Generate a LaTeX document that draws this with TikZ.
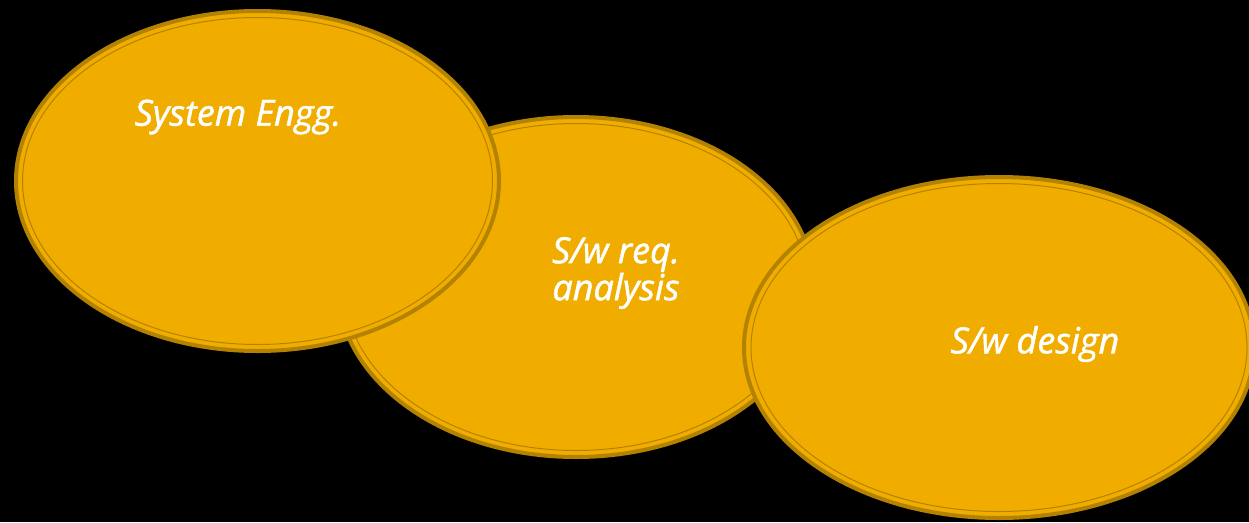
\documentclass[tikz,border=0pt]{standalone}
\usepackage{fontspec}
\setmainfont{Open Sans}[ItalicFeatures={FakeBold=1.3}]
\usetikzlibrary{shapes.geometric}
\definecolor{goldfill}{HTML}{F0AD00}
\definecolor{goldrim}{HTML}{B38200}
\tikzset{
  blob/.style={ellipse, fill=goldfill, draw=goldrim, line width=4pt, inner sep=0pt},
  rim/.style={draw=goldrim, line width=1pt},
  lbl/.style={text=white, font=\itshape\fontsize{36}{37}\selectfont, align=center, inner sep=0pt},
}
\begin{document}
\begin{tikzpicture}[x=1pt, y=-1pt]
  \useasboundingbox[fill=black] (0,0) rectangle (1249,522);
  % middle ellipse sits underneath the other two
  \node[blob, minimum width=476pt, minimum height=340pt] (req) at (576,287) {};
  \draw[rim] (req.center) ellipse [x radius=231.5, y radius=163.5];
  \node[blob, minimum width=483pt, minimum height=340pt] (sys) at (257.5,181) {};
  \draw[rim] (sys.center) ellipse [x radius=235, y radius=163.5];
  \node[blob, minimum width=510pt, minimum height=341pt] (des) at (999,347.5) {};
  \draw[rim] (des.center) ellipse [x radius=248, y radius=164];
  % labels
  \node[lbl] (sys-t) at (238,117) {System Engg.};
  \node[lbl] (req-t) at (616,273) {S/w req.\\analysis};
  \node[lbl] (des-t) at (1035,344) {S/w design};
\end{tikzpicture}
\end{document}
